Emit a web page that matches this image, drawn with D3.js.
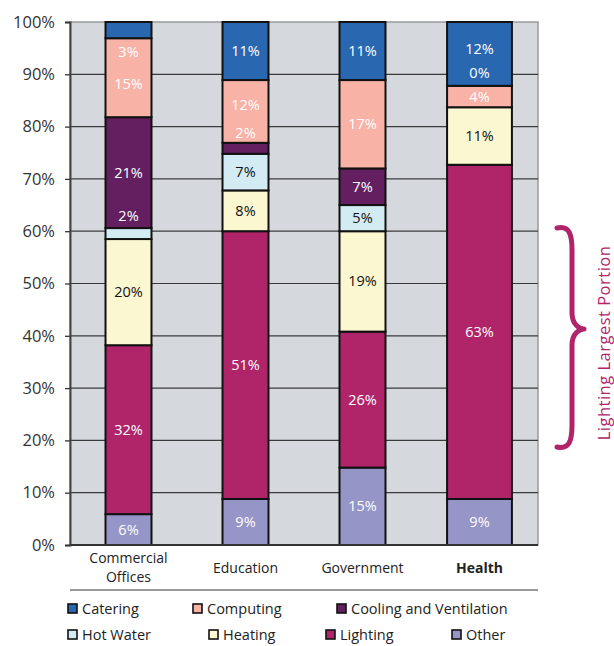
<!DOCTYPE html>
<html>
<head>
<meta charset="utf-8">
<script src="https://cdn.jsdelivr.net/npm/d3@7"></script>
<style>
  html, body { margin: 0; padding: 0; background: #ffffff; }
  svg { display: block; font-family: "Open Sans", "Noto Sans", sans-serif; }
</style>
</head>
<body>
<svg id="chart" width="614" height="646"></svg>
<script>
// ---------------- DATA ----------------
const categories = ["Commercial Offices", "Education", "Government", "Health"];
// series, stacked from bottom to top
const seriesNames = ["Other", "Lighting", "Heating", "Hot Water", "Cooling and Ventilation", "Computing", "Catering"];
const other      = [5.9, 8.8, 14.8, 8.8];
const lighting   = [32.3, 51.2, 26.0, 63.9];
const heating    = [20.3, 7.8, 19.2, 11.0];
const hotWater   = [2.1, 7.0, 5.0, 0];
const cooling    = [21.2, 2.1, 7.0, 0];
const computing  = [15.1, 12.0, 16.9, 4.1];
const catering   = [3.1, 11.1, 11.1, 12.2];
// data labels as printed
const otherLabels     = ["6%", "9%", "15%", "9%"];
const lightingLabels  = ["32%", "51%", "26%", "63%"];
const heatingLabels   = ["20%", "8%", "19%", "11%"];
const hotWaterLabels  = ["2%", "7%", "5%", ""];
const coolingLabels   = ["21%", "2%", "7%", "0%"];
const computingLabels = ["15%", "12%", "17%", "4%"];
const cateringLabels  = ["3%", "11%", "11%", "12%"];
const yTickValues = [0, 10, 20, 30, 40, 50, 60, 70, 80, 90, 100];
const legendOrder = ["Catering", "Computing", "Cooling and Ventilation", "Hot Water", "Heating", "Lighting", "Other"];
const highlightCategory = "Health";
const annotation = "Lighting Largest Portion";

// ---------------- STYLE / LAYOUT ----------------
const seriesValues = [other, lighting, heating, hotWater, cooling, computing, catering];
const seriesLabels = [otherLabels, lightingLabels, heatingLabels, hotWaterLabels, coolingLabels, computingLabels, cateringLabels];
const colors = {
  "Catering": "#2a67b1",
  "Computing": "#f8b2a6",
  "Cooling and Ventilation": "#631f5f",
  "Hot Water": "#d3ecf3",
  "Heating": "#fbf8d1",
  "Lighting": "#b0246a",
  "Other": "#9595c7"
};
const labelColor = {
  "Catering": "#ffffff", "Computing": "#ffffff", "Cooling and Ventilation": "#ffffff",
  "Hot Water": "#111111", "Heating": "#111111", "Lighting": "#ffffff", "Other": "#ffffff"
};
// manual label nudges (px) as in the original chart
const labelNudge = {
  "Commercial Offices|Catering": 22,
  "Commercial Offices|Computing": 6,
  "Commercial Offices|Hot Water": -18,
  "Education|Computing": -7,
  "Education|Cooling and Ventilation": -15,
  "Health|Catering": -5,
  "Health|Cooling and Ventilation": -34
};

const margin = { left: 70, right: 76, top: 22, bottom: 101 };
const W = 614, H = 646;
const plotW = W - margin.left - margin.right;   // 468
const plotH = H - margin.top - margin.bottom;   // 523

const svg = d3.select("#chart");
const g = svg.append("g").attr("transform", `translate(${margin.left},${margin.top})`);

const x = d3.scaleBand().domain(categories).range([0, plotW]).paddingInner(0.607).paddingOuter(0.3035);
const y = d3.scaleLinear().domain([0, 100]).range([plotH, 0]);

// plot background
g.append("rect").attr("x", 0).attr("y", 0).attr("width", plotW).attr("height", plotH)
  .attr("fill", "#d5d9de").attr("stroke", "#9a9a9a").attr("stroke-width", 1.5);

// gridlines
g.append("g").selectAll("line").data(yTickValues.filter(v => v > 0 && v < 100)).join("line")
  .attr("x1", 0).attr("x2", plotW)
  .attr("y1", d => y(d)).attr("y2", d => y(d))
  .attr("stroke", "#3a3a3a").attr("stroke-width", 1.2);

// stacked data
const rows = categories.map((c, i) => {
  const r = { category: c };
  seriesNames.forEach((s, k) => { r[s] = seriesValues[k][i]; });
  return r;
});
const stack = d3.stack().keys(seriesNames)(rows);

function barX(cat) {
  const bw = x.bandwidth();
  const w = cat === highlightCategory ? bw * 1.41 : bw;
  return { x0: x(cat) + bw / 2 - w / 2, w };
}

const layers = g.append("g").selectAll("g").data(stack).join("g")
  .attr("fill", d => colors[d.key]);
layers.selectAll("rect").data(d => d.filter(p => p[1] - p[0] > 0)).join("rect")
  .attr("x", d => barX(d.data.category).x0)
  .attr("width", d => barX(d.data.category).w)
  .attr("y", d => y(d[1]))
  .attr("height", d => y(d[0]) - y(d[1]))
  .attr("stroke", "#111")
  .attr("stroke-width", 2);

// which segment lies under a given pixel y in a category
function segmentAt(i, py) {
  for (const layer of stack) {
    const p = layer[i];
    if (p[1] - p[0] > 0 && py <= y(p[0]) && py >= y(p[1])) return layer.key;
  }
  return null;
}

// data labels
const labelG = g.append("g");
stack.forEach((layer, k) => {
  layer.forEach((p, i) => {
    const txt = seriesLabels[k][i];
    if (!txt) return;
    const cat = categories[i];
    const key = layer.key;
    const cy = (y(p[0]) + y(p[1])) / 2 + (labelNudge[cat + "|" + key] || 0);
    const under = segmentAt(i, cy) || key;
    labelG.append("text")
      .attr("x", x(cat) + x.bandwidth() / 2)
      .attr("y", cy)
      .attr("dy", "0.35em")
      .attr("text-anchor", "middle")
      .attr("font-size", 14.5)
      .attr("fill", labelColor[under])
      .text(txt);
  });
});

// y axis
const yAxis = d3.axisLeft(y).tickValues(yTickValues).tickFormat(d => d + "%").tickSize(5).tickPadding(10);
const ya = g.append("g").call(yAxis);
ya.select(".domain").attr("stroke", "#444").attr("stroke-width", 2);
ya.selectAll(".tick line").attr("stroke", "#333").attr("stroke-width", 1.3);
ya.selectAll(".tick text").attr("font-size", 16.5).attr("fill", "#333").attr("font-family", "Open Sans, sans-serif");

// bottom axis line
g.append("line").attr("x1", 0).attr("x2", plotW).attr("y1", plotH).attr("y2", plotH)
  .attr("stroke", "#333").attr("stroke-width", 2);

// x category labels
categories.forEach(c => {
  const words = c.split(" ");
  const t = g.append("text")
    .attr("x", x(c) + x.bandwidth() / 2)
    .attr("text-anchor", "middle")
    .attr("font-size", 14)
    .attr("fill", "#222")
    .attr("font-weight", c === highlightCategory ? 700 : 400);
  if (words.length > 1) {
    t.attr("y", plotH + 18);
    words.forEach((w, j) => t.append("tspan").attr("x", x(c) + x.bandwidth() / 2).attr("dy", j === 0 ? 0 : 19).text(w));
  } else {
    t.attr("y", plotH + 28).text(c);
  }
});

// separator line
g.append("line").attr("x1", 0).attr("x2", plotW).attr("y1", plotH + 45).attr("y2", plotH + 45)
  .attr("stroke", "#333").attr("stroke-width", 1.2);

// legend
const legendPos = [[68, 609], [193, 609], [337, 609], [68, 635], [209, 635], [326, 635], [452, 635]];
legendOrder.forEach((name, i) => {
  const [lx, ly] = legendPos[i];
  svg.append("rect").attr("x", lx).attr("y", ly - 5).attr("width", 9).attr("height", 9)
    .attr("fill", colors[name]).attr("stroke", "#111").attr("stroke-width", 1.6);
  svg.append("text").attr("x", lx + 14).attr("y", ly).attr("dy", "0.35em")
    .attr("font-size", 14.5).attr("fill", "#222").text(name);
});

// brace annotation
const bEndX = 557, bVx = 572, bTipX = 584;
const bTop = 228, bBot = 447, bTip = 329;
const bp = d3.path();
bp.moveTo(bEndX, bTop);
bp.bezierCurveTo(bVx - 2, bTop - 3, bVx, bTop + 8, bVx, bTop + 22);
bp.lineTo(bVx, bTip - 16);
bp.bezierCurveTo(bVx, bTip - 4, bTipX - 4, bTip, bTipX, bTip);
bp.bezierCurveTo(bTipX - 4, bTip, bVx, bTip + 4, bVx, bTip + 16);
bp.lineTo(bVx, bBot - 22);
bp.bezierCurveTo(bVx, bBot - 8, bVx - 2, bBot + 3, bEndX, bBot);
svg.append("path").attr("d", bp.toString())
  .attr("fill", "none").attr("stroke", "#b0246a").attr("stroke-width", 5)
  .attr("stroke-linecap", "round").attr("stroke-linejoin", "round");

svg.append("text")
  .attr("transform", `translate(604, 343) rotate(-90)`)
  .attr("text-anchor", "middle")
  .attr("dy", "0.35em")
  .attr("font-size", 16.5)
  .attr("letter-spacing", 0.5)
  .attr("fill", "#b0246a")
  .text(annotation);
</script>
</body>
</html>
